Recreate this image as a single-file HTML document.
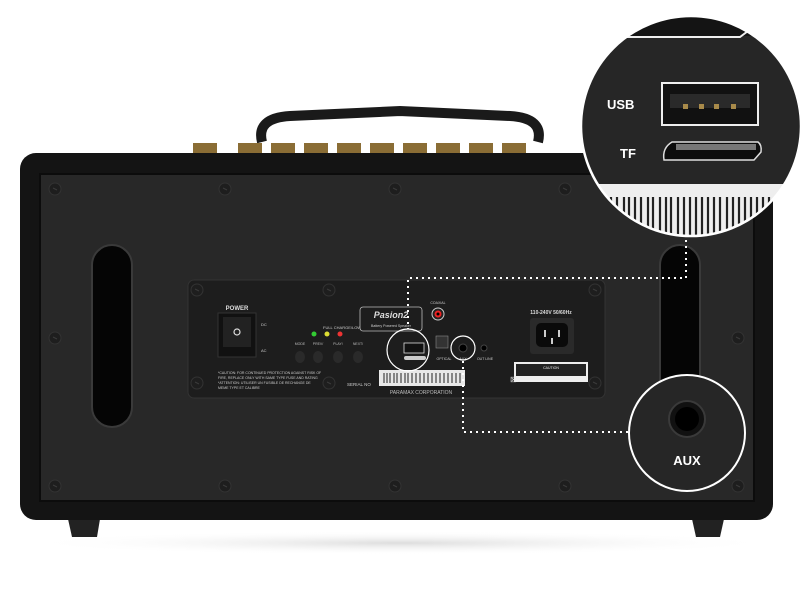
<!DOCTYPE html>
<html><head><meta charset="utf-8"><style>
html,body{margin:0;padding:0;background:#fff;}
svg{display:block;font-family:"Liberation Sans",sans-serif;}
</style></head><body>
<svg width="800" height="600" viewBox="0 0 800 600" xmlns="http://www.w3.org/2000/svg">
<defs>
<radialGradient id="sh" cx="50%" cy="50%" r="50%"><stop offset="0" stop-color="#ddd"/><stop offset="1" stop-color="#fff" stop-opacity="0"/></radialGradient>
<clipPath id="cc"><circle cx="691" cy="126" r="110"/></clipPath>
<g id="scr"><circle r="6" fill="#1e1e1e" stroke="#333" stroke-width="1"/><path d="M-2,-1 L2,1" stroke="#3a3a3a" stroke-width="1"/></g>
</defs>
<ellipse cx="400" cy="543" rx="380" ry="12" fill="url(#sh)"/>
<!-- handle -->
<path d="M262,142 Q256,118 290,116 L400,111 L510,116 Q544,118 538,142" fill="none" stroke="#1a1a1a" stroke-width="10"/>
<!-- gold posts -->
<g fill="#8a6d35">
<rect x="193" y="143" width="24" height="10"/><rect x="238" y="143" width="24" height="10"/><rect x="271" y="143" width="24" height="10"/><rect x="304" y="143" width="24" height="10"/><rect x="337" y="143" width="24" height="10"/><rect x="370" y="143" width="24" height="10"/><rect x="403" y="143" width="24" height="10"/><rect x="436" y="143" width="24" height="10"/><rect x="469" y="143" width="24" height="10"/><rect x="502" y="143" width="24" height="10"/>
</g>
<!-- feet -->
<path d="M68,519 L100,519 L97,537 L72,537Z" fill="#222"/>
<path d="M692,519 L724,519 L720,537 L696,537Z" fill="#222"/>
<!-- body -->
<rect x="20" y="153" width="753" height="367" rx="16" fill="#141414"/>
<rect x="40" y="174" width="714" height="327" fill="#282828" stroke="#0c0c0c" stroke-width="2"/>
<!-- slots -->
<rect x="92" y="245" width="40" height="182" rx="20" fill="#050505" stroke="#3a3a3a" stroke-width="2"/>
<rect x="660" y="245" width="40" height="182" rx="20" fill="#050505" stroke="#3a3a3a" stroke-width="2"/>
<!-- screws -->
<use href="#scr" x="55" y="189"/><use href="#scr" x="225" y="189"/><use href="#scr" x="395" y="189"/><use href="#scr" x="565" y="189"/><use href="#scr" x="738" y="189"/>
<use href="#scr" x="55" y="486"/><use href="#scr" x="225" y="486"/><use href="#scr" x="395" y="486"/><use href="#scr" x="565" y="486"/><use href="#scr" x="738" y="486"/>
<use href="#scr" x="55" y="338"/><use href="#scr" x="738" y="338"/>
<!-- panel -->
<rect x="188" y="280" width="417" height="118" rx="6" fill="#1d1d1d" stroke="#333" stroke-width="1"/>
<use href="#scr" x="197" y="290"/><use href="#scr" x="329" y="290"/><use href="#scr" x="595" y="290"/><use href="#scr" x="197" y="383"/><use href="#scr" x="329" y="383"/><use href="#scr" x="595" y="383"/>
<text x="237" y="310" font-size="6" fill="#ddd" font-weight="bold" text-anchor="middle">POWER</text>
<rect x="218" y="313" width="38" height="44" fill="#111" stroke="#333"/>
<rect x="223" y="317" width="28" height="30" fill="#222"/>
<circle cx="237" cy="332" r="3" fill="none" stroke="#ddd" stroke-width="1.2"/>
<text x="261" y="326" font-size="4" fill="#ccc">DC</text><text x="261" y="352" font-size="4" fill="#ccc">AC</text>
<text x="323" y="329" font-size="4" fill="#ccc">FULL CHARGE/LOW</text>
<circle cx="314" cy="334" r="2.5" fill="#3c3"/><circle cx="327" cy="334" r="2.5" fill="#dd3"/><circle cx="340" cy="334" r="2.5" fill="#e33"/>
<g font-size="3.5" fill="#bbb" text-anchor="middle"><text x="300" y="345">MODE</text><text x="318" y="345">PREV/</text><text x="338" y="345">PLAY/</text><text x="358" y="345">NEXT/</text></g>
<g fill="#2a2a2a"><ellipse cx="300" cy="357" rx="5" ry="6"/><ellipse cx="318" cy="357" rx="5" ry="6"/><ellipse cx="338" cy="357" rx="5" ry="6"/><ellipse cx="358" cy="357" rx="5" ry="6"/></g>
<g font-size="3.5" fill="#ccc"><text x="218" y="374">*CAUTION: FOR CONTINUED PROTECTION AGAINST RISK OF</text><text x="218" y="379">FIRE, REPLACE ONLY WITH SAME TYPE FUSE AND RATING</text><text x="218" y="384">*ATTENTION: UTILISER UN FUSIBLE DE RECHANGE DE</text><text x="218" y="389">MEME TYPE ET CALIBRE</text></g>
<rect x="360" y="307" width="62" height="24" rx="3" fill="#1d1d1d" stroke="#bbb" stroke-width="0.8"/>
<text x="391" y="318" font-size="9" fill="#ddd" font-style="italic" font-weight="bold" text-anchor="middle">Pasion2</text>
<text x="391" y="327" font-size="3.5" fill="#ccc" text-anchor="middle">Battery Powered Speaker</text>
<text x="438" y="304" font-size="3.5" fill="#ccc" text-anchor="middle">COAXIAL</text>
<circle cx="438" cy="314" r="6" fill="#222" stroke="#ccc"/><circle cx="438" cy="314" r="3.5" fill="#e22"/><circle cx="438" cy="314" r="1.5" fill="#000"/>
<rect x="436" y="336" width="12" height="12" fill="#333" stroke="#888" stroke-width="0.6"/>
<rect x="404" y="343" width="20" height="10" fill="#111" stroke="#ddd" stroke-width="0.8"/>
<rect x="404" y="356" width="22" height="4" rx="2" fill="#ccc"/>
<circle cx="463" cy="348" r="4" fill="#000" stroke="#444"/>
<circle cx="484" cy="348" r="3" fill="#000" stroke="#444"/>
<text x="444" y="360" font-size="3.5" fill="#ccc" text-anchor="middle">OPTICAL</text><text x="463" y="360" font-size="3.5" fill="#ccc" text-anchor="middle">AUX</text><text x="485" y="360" font-size="3.5" fill="#ccc" text-anchor="middle">OUT LINE</text>
<text x="347" y="386" font-size="4.5" fill="#ccc">SERIAL NO</text>
<rect x="379" y="370" width="86" height="16" fill="#e8e8e8"/>
<g stroke="#222" stroke-width="1"><path d="M384,373v10M387,373v10M390,373v10M394,373v10M397,373v10M401,373v10M405,373v10M408,373v10M412,373v10M416,373v10M420,373v10M424,373v10M428,373v10M432,373v10M436,373v10M440,373v10M444,373v10M448,373v10M452,373v10M456,373v10M460,373v10"/></g>
<text x="421" y="394" font-size="5" fill="#bbb" text-anchor="middle">PARAMAX CORPORATION</text>
<text x="510" y="382" font-size="8" fill="#ccc">⊠</text>
<text x="551" y="314" font-size="5" fill="#ddd" font-weight="bold" text-anchor="middle">110-240V 50/60Hz</text>
<rect x="530" y="318" width="44" height="36" rx="3" fill="#2a2a2a"/>
<rect x="536" y="323" width="32" height="24" rx="5" fill="#0a0a0a"/>
<rect x="544" y="330" width="2" height="7" fill="#ccc"/><rect x="558" y="330" width="2" height="7" fill="#ccc"/><rect x="551" y="338" width="2" height="6" fill="#ccc"/>
<rect x="514" y="362" width="74" height="20" fill="#eee"/><rect x="516" y="364" width="70" height="12" fill="#222"/>
<text x="551" y="369" font-size="3.5" fill="#eee" text-anchor="middle">CAUTION</text>
<!-- small circles -->
<circle cx="408" cy="350" r="21" fill="none" stroke="#fff" stroke-width="1.2"/>
<circle cx="463" cy="348" r="12" fill="none" stroke="#fff" stroke-width="1.2"/>
<!-- dotted -->
<g fill="none" stroke="#fff" stroke-width="2" stroke-dasharray="2,4">
<path d="M686,240 V278 H408 V329"/>
<path d="M463,361 V432 H629"/>
</g>
<!-- AUX circle -->
<circle cx="687" cy="433" r="58" fill="#262626" stroke="#fff" stroke-width="2"/>
<circle cx="687" cy="419" r="18" fill="#111" stroke="#3a3a3a" stroke-width="2"/><circle cx="687" cy="419" r="12" fill="#000"/>
<text x="687" y="465" font-size="13" fill="#fff" font-weight="bold" text-anchor="middle">AUX</text>
<!-- top zoom circle -->
<g clip-path="url(#cc)">
<rect x="570" y="0" width="240" height="260" fill="#262626"/>
<rect x="570" y="0" width="240" height="36" fill="#141414"/>
<path d="M570,37 H740 L752,28" fill="none" stroke="#eee" stroke-width="2"/>
<rect x="570" y="184" width="240" height="60" fill="#eee"/>
<g stroke="#222" stroke-width="2.2"><path d="M600,197v45M606,197v45M611,197v45M617,197v45M624,197v45M629,197v45M635,197v45M641,197v45M648,197v45M653,197v45M660,197v45M666,197v45M671,197v45M678,197v45M684,197v45M690,197v45M696,197v45M702,197v45M708,197v45M714,197v45M720,197v45M727,197v45M733,197v45M739,197v45M745,197v45M751,197v45M757,197v45M763,197v45M769,197v45"/></g>
<text x="607" y="109" font-size="13" fill="#fff" font-weight="bold">USB</text>
<text x="620" y="158" font-size="13" fill="#fff" font-weight="bold">TF</text>
<rect x="662" y="83" width="96" height="42" fill="#111" stroke="#eee" stroke-width="2"/>
<rect x="670" y="94" width="80" height="14" fill="#2a2a2a"/>
<g fill="#a88a4a"><rect x="683" y="104" width="5" height="5"/><rect x="699" y="104" width="5" height="5"/><rect x="714" y="104" width="5" height="5"/><rect x="731" y="104" width="5" height="5"/></g>
<path d="M672,142 H758 Q762,145 761,152 L754,160 H664 Q662,148 672,142Z" fill="#0c0c0c" stroke="#ddd" stroke-width="1.5"/>
<rect x="676" y="144" width="80" height="6" fill="#777"/>
</g>
<circle cx="691" cy="126" r="110" fill="none" stroke="#fff" stroke-width="2.5"/>
</svg>
</body></html>
